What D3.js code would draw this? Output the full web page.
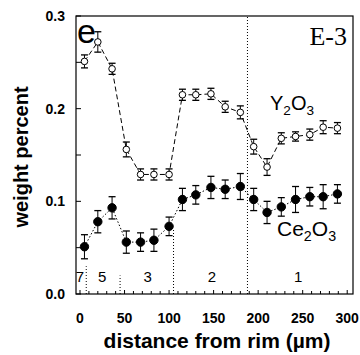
<!DOCTYPE html>
<html>
<head>
<meta charset="utf-8">
<script src="https://cdn.jsdelivr.net/npm/d3@7"></script>
<style>
  body { margin: 0; background: #fff; }
  svg { display: block; }
  .axis-label { font-family: "Liberation Sans", Arial, sans-serif; font-weight: bold; fill: #000; }
</style>
</head>
<body>
<div id="chart"></div>
<script>
// distance from rim (um) for both series
const distance = [5, 20, 36, 52, 68, 83, 100, 115, 130, 147, 163, 180, 195, 210, 226, 242, 258, 273, 289];

// Y2O3 weight percent and half error
const y2o3 = [0.251, 0.272, 0.243, 0.156, 0.129, 0.129, 0.129, 0.215, 0.215, 0.216, 0.202, 0.196, 0.159, 0.137, 0.168, 0.170, 0.172, 0.180, 0.179];
const y2o3Err = [0.007, 0.011, 0.006, 0.008, 0.006, 0.006, 0.006, 0.006, 0.006, 0.006, 0.006, 0.007, 0.008, 0.009, 0.006, 0.005, 0.006, 0.007, 0.006];

// Ce2O3 weight percent and half error
const ce2o3 = [0.051, 0.078, 0.093, 0.056, 0.056, 0.058, 0.073, 0.102, 0.107, 0.115, 0.113, 0.116, 0.102, 0.088, 0.094, 0.102, 0.105, 0.105, 0.108];
const ce2o3Err = [0.013, 0.012, 0.012, 0.012, 0.010, 0.012, 0.010, 0.012, 0.010, 0.012, 0.010, 0.014, 0.012, 0.012, 0.010, 0.014, 0.010, 0.013, 0.010];

// zones along the profile
const zoneLabels = ["7", "5", "3", "2", "1"];
const zoneCenters = [0, 25, 76, 148, 245];
const zoneBounds = [7, 45, 105, 188];
const zoneBoundTops = [0.03, 0.02, 0.07, 0.3];

const yTickLabels = [0.0, 0.1, 0.2, 0.3];
const xTickLabels = [0, 50, 100, 150, 200, 250, 300];

const width = 360, height = 355;
const margin = {top: 16, right: 7, bottom: 61, left: 76};

const svg = d3.select("#chart").append("svg")
    .attr("width", width)
    .attr("height", height);

const x = d3.scaleLinear()
    .domain([-4.5, 306.5])
    .range([margin.left, width - margin.right]);

const y = d3.scaleLinear()
    .domain([0, 0.3])
    .range([height - margin.bottom, margin.top]);

// frame
svg.append("rect")
    .attr("x", x.range()[0])
    .attr("y", y.range()[1])
    .attr("width", x.range()[1] - x.range()[0])
    .attr("height", y.range()[0] - y.range()[1])
    .attr("fill", "none")
    .attr("stroke", "#000")
    .attr("stroke-width", 1.2);

// y ticks (inward) every 0.05
svg.append("g")
    .selectAll("line")
    .data(d3.range(0, 0.3001, 0.05))
    .join("line")
    .attr("x1", x.range()[0])
    .attr("x2", x.range()[0] + 5)
    .attr("y1", d => y(d))
    .attr("y2", d => y(d))
    .attr("stroke", "#000");

svg.append("g")
    .selectAll("text")
    .data(yTickLabels)
    .join("text")
    .attr("class", "axis-label")
    .attr("x", 65)
    .attr("y", d => y(d) + 5)
    .attr("text-anchor", "end")
    .attr("font-size", 14)
    .text(d => d3.format(".1f")(d));

// x ticks (inward) every 10
svg.append("g")
    .selectAll("line")
    .data(d3.range(0, 301, 10))
    .join("line")
    .attr("x1", d => x(d))
    .attr("x2", d => x(d))
    .attr("y1", y(0))
    .attr("y2", d => y(0) - (d % 50 === 0 ? 4 : 3))
    .attr("stroke", "#000");

svg.append("g")
    .selectAll("text")
    .data(xTickLabels)
    .join("text")
    .attr("class", "axis-label")
    .attr("x", d => x(d))
    .attr("y", 323)
    .attr("text-anchor", "middle")
    .attr("font-size", 14)
    .text(d => d);

// axis titles
svg.append("text")
    .attr("class", "axis-label")
    .attr("transform", "translate(28,157) rotate(-90)")
    .attr("text-anchor", "middle")
    .attr("font-size", 20)
    .text("weight percent");

svg.append("text")
    .attr("class", "axis-label")
    .attr("x", 217)
    .attr("y", 348)
    .attr("text-anchor", "middle")
    .attr("font-size", 21)
    .text("distance from rim (\u00b5m)");

// zone boundaries and labels
svg.append("g")
    .selectAll("line")
    .data(zoneBounds)
    .join("line")
    .attr("x1", d => x(d))
    .attr("x2", d => x(d))
    .attr("y1", y(0))
    .attr("y2", (d, i) => y(zoneBoundTops[i]))
    .attr("stroke", "#000")
    .attr("stroke-width", 1)
    .attr("stroke-dasharray", "1,2");

svg.append("g")
    .selectAll("text")
    .data(zoneLabels)
    .join("text")
    .attr("x", (d, i) => x(zoneCenters[i]))
    .attr("y", 282)
    .attr("text-anchor", "middle")
    .attr("font-family", "Liberation Sans, Arial, sans-serif")
    .attr("font-size", 15)
    .text(d => d);

// series
function drawSeries(values, errs, dash, filled) {
    let g = svg.append("g");
    let pts = distance.map((d, i) => ({x: d, v: values[i], e: errs[i]}));

    g.append("path")
        .datum(pts)
        .attr("fill", "none")
        .attr("stroke", "#000")
        .attr("stroke-width", 1)
        .attr("stroke-dasharray", dash)
        .attr("d", d3.line().x(d => x(d.x)).y(d => y(d.v)));

    let bars = g.selectAll("g.err")
        .data(pts)
        .join("g")
        .attr("class", "err");

    bars.append("line")
        .attr("x1", d => x(d.x)).attr("x2", d => x(d.x))
        .attr("y1", d => y(d.v - d.e)).attr("y2", d => y(d.v + d.e))
        .attr("stroke", "#000");
    bars.append("line")
        .attr("x1", d => x(d.x) - 3.5).attr("x2", d => x(d.x) + 3.5)
        .attr("y1", d => y(d.v + d.e)).attr("y2", d => y(d.v + d.e))
        .attr("stroke", "#000").attr("stroke-width", 1.3);
    bars.append("line")
        .attr("x1", d => x(d.x) - 3.5).attr("x2", d => x(d.x) + 3.5)
        .attr("y1", d => y(d.v - d.e)).attr("y2", d => y(d.v - d.e))
        .attr("stroke", "#000").attr("stroke-width", 1.3);

    g.selectAll("circle")
        .data(pts)
        .join("circle")
        .attr("cx", d => x(d.x))
        .attr("cy", d => y(d.v))
        .attr("r", filled ? 4.2 : 3.3)
        .attr("fill", filled ? "#000" : "#fff")
        .attr("stroke", "#000")
        .attr("stroke-width", 1);
}

drawSeries(y2o3, y2o3Err, "5,3", false);
drawSeries(ce2o3, ce2o3Err, "1.5,2", true);

// annotations
svg.append("text")
    .attr("x", 77)
    .attr("y", 43)
    .attr("font-family", "Liberation Sans, Arial, sans-serif")
    .attr("font-size", 34)
    .text("e");

svg.append("text")
    .attr("x", 347)
    .attr("y", 45)
    .attr("text-anchor", "end")
    .attr("font-family", "Liberation Serif, Times New Roman, serif")
    .attr("font-size", 26)
    .text("E-3");

function formula(xp, yp, size, parts) {
    let t = svg.append("text")
        .attr("x", xp)
        .attr("y", yp)
        .attr("font-family", "Liberation Sans, Arial, sans-serif")
        .attr("font-size", size);
    parts.forEach(p => {
        t.append("tspan")
            .attr("font-size", p.sub ? size * 0.68 : size)
            .attr("dy", p.sub ? 5 : (p.after ? -5 : 0))
            .text(p.t);
    });
}

formula(270, 110, 20, [{t: "Y"}, {t: "2", sub: true}, {t: "O", after: true}, {t: "3", sub: true}]);
formula(277, 236, 21, [{t: "Ce"}, {t: "2", sub: true}, {t: "O", after: true}, {t: "3", sub: true}]);
</script>
</body>
</html>
